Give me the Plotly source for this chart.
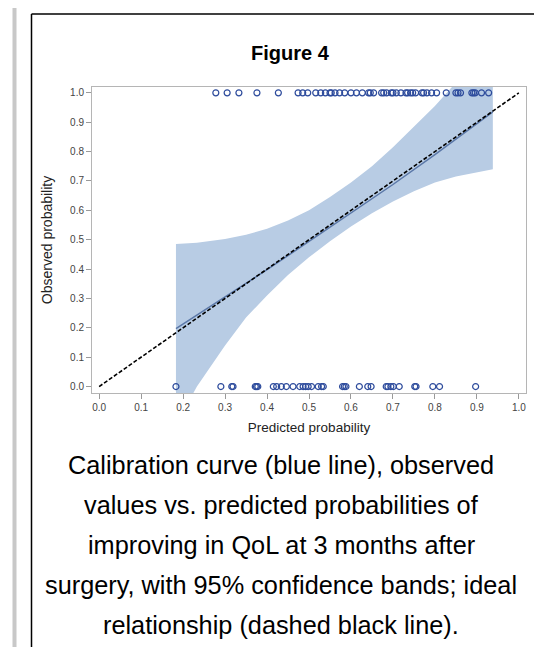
import plotly.graph_objects as go

# ---------------- data ----------------
obs1_pred = [0.278, 0.305, 0.333, 0.376, 0.427,
             0.474, 0.485, 0.497, 0.516, 0.528, 0.539, 0.550, 0.553, 0.562, 0.573, 0.585,
             0.600, 0.613, 0.627, 0.642, 0.646, 0.654, 0.673, 0.678, 0.685, 0.696, 0.700,
             0.708, 0.719, 0.731, 0.735, 0.742, 0.747, 0.754, 0.769, 0.773, 0.781, 0.792,
             0.804, 0.827, 0.850, 0.855, 0.861, 0.888, 0.892, 0.896, 0.911, 0.928]
obs0_pred = [0.183, 0.290, 0.316, 0.319, 0.372, 0.375, 0.378, 0.415, 0.423, 0.434, 0.446,
             0.462, 0.478, 0.486, 0.492, 0.498, 0.506, 0.522, 0.530, 0.534, 0.580, 0.584,
             0.588, 0.620, 0.640, 0.648, 0.684, 0.688, 0.695, 0.701, 0.715, 0.752, 0.755,
             0.795, 0.811, 0.897]

curve_x = [0.183, 0.3, 0.4, 0.5, 0.6, 0.7, 0.8, 0.9, 0.938]
curve_y = [0.197, 0.305, 0.398, 0.494, 0.590, 0.688, 0.790, 0.895, 0.935]

band_x = [0.183, 0.233, 0.3, 0.35, 0.4, 0.45, 0.5, 0.55, 0.6, 0.65, 0.7, 0.75, 0.8, 0.85, 0.9, 0.938]
band_upper = [0.485, 0.490, 0.502, 0.517, 0.537, 0.565, 0.600, 0.645, 0.695, 0.750, 0.815,
              0.885, 0.955, 1.035, 1.110, 1.170]
band_lower = [-0.13, 0.0, 0.14, 0.235, 0.31, 0.38, 0.44, 0.495, 0.545, 0.59, 0.63, 0.665,
              0.695, 0.715, 0.73, 0.74]

ideal_x = [0.0, 1.0]
ideal_y = [0.0, 1.0]

ticks = [0.0, 0.1, 0.2, 0.3, 0.4, 0.5, 0.6, 0.7, 0.8, 0.9, 1.0]
tick_text = ["0.0", "0.1", "0.2", "0.3", "0.4", "0.5", "0.6", "0.7", "0.8", "0.9", "1.0"]

caption_lines = [
    "Calibration curve (blue line), observed",
    "values vs. predicted probabilities of",
    "improving in QoL at 3 months after",
    "surgery, with 95% confidence bands; ideal",
    "relationship (dashed black line).",
]

# ---------------- figure ----------------
W, H = 542, 647
FONT = "Arial, Liberation Sans, sans-serif"

fig = go.Figure()

fig.add_trace(go.Scatter(
    x=band_x + band_x[::-1], y=band_upper + band_lower[::-1],
    fill="toself", fillcolor="#b8cce4", line=dict(width=0), mode="lines",
    hoverinfo="skip", showlegend=False))

fig.add_trace(go.Scatter(
    x=curve_x, y=curve_y, mode="lines",
    line=dict(color="#5b78a8", width=1.5), showlegend=False))

fig.add_trace(go.Scatter(
    x=ideal_x, y=ideal_y, mode="lines",
    line=dict(color="black", width=1.6, dash="4px,2px"), showlegend=False))

fig.add_trace(go.Scatter(
    x=obs1_pred, y=[1.0] * len(obs1_pred), mode="markers",
    marker=dict(symbol="circle-open", size=6, color="#2d4b9c", line=dict(width=1.2)),
    showlegend=False, cliponaxis=False))

fig.add_trace(go.Scatter(
    x=obs0_pred, y=[0.0] * len(obs0_pred), mode="markers",
    marker=dict(symbol="circle-open", size=6, color="#2d4b9c", line=dict(width=1.2)),
    showlegend=False, cliponaxis=False))

axis_common = dict(
    showgrid=False, zeroline=False, showline=True, mirror=True,
    linecolor="#b5b5b5", linewidth=1, ticks="outside", ticklen=5,
    tickcolor="#9a9a9a", tickwidth=1,
    tickfont=dict(family=FONT, size=10, color="#444444"),
    tickvals=ticks, ticktext=tick_text,
)

fig.update_layout(
    width=W, height=H,
    margin=dict(l=0, r=0, t=0, b=0),
    paper_bgcolor="white", plot_bgcolor="white",
    title=dict(text="Figure 4", x=282 / W, xanchor="center", y=1 - 45 / H, yanchor="middle",
               font=dict(family=FONT, size=20, color="black", weight="bold")),
    xaxis=dict(axis_common, range=[-0.017, 1.017], domain=[84 / W, 518 / W],
               title=dict(text="Predicted probability", standoff=10,
                          font=dict(family=FONT, size=13.5, color="#222222"))),
    yaxis=dict(axis_common, range=[-0.022, 1.02], domain=[1 - 385 / H, 1 - 79 / H],
               title=dict(text="Observed probability", standoff=14,
                          font=dict(family=FONT, size=14, color="#222222"))),
    showlegend=False,
)

# page decorations: gray side bar, black box edges
fig.add_shape(type="rect", xref="paper", yref="paper", x0=4.5 / W, x1=8.5 / W, y0=0, y1=1,
              fillcolor="#c8c8c8", line=dict(width=0), layer="below")
fig.add_shape(type="line", xref="paper", yref="paper", x0=23.5 / W, x1=23.5 / W,
              y0=0, y1=1 - 6 / H, line=dict(color="black", width=1.5))
fig.add_shape(type="line", xref="paper", yref="paper", x0=23.5 / W, x1=1,
              y0=1 - 6 / H, y1=1 - 6 / H, line=dict(color="black", width=1.5))

for i, line in enumerate(caption_lines):
    fig.add_annotation(text=line, xref="paper", yref="paper",
                       x=273 / W, y=1 - (457 + 40 * i) / H, xanchor="center", yanchor="middle",
                       showarrow=False, font=dict(family=FONT, size=25.3, color="black"))

fig.write_html("out.html")
